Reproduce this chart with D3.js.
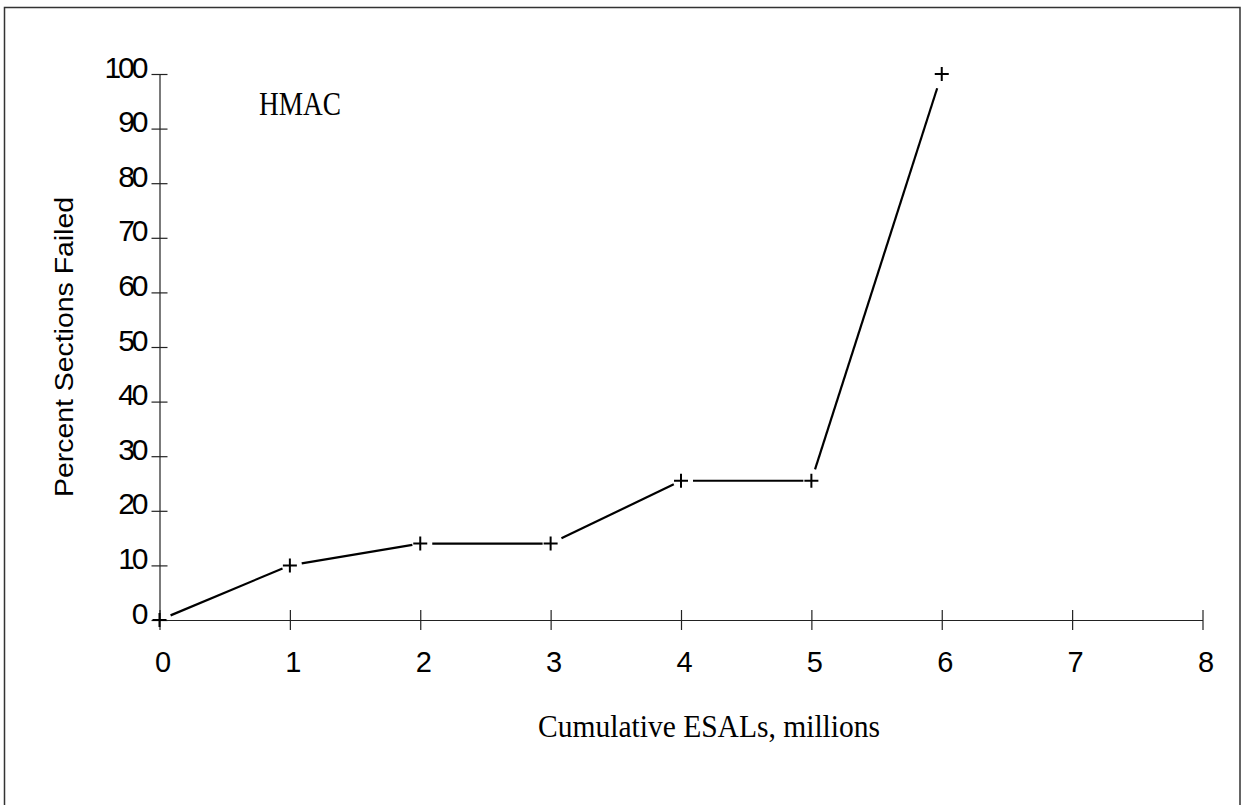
<!DOCTYPE html>
<html>
<head>
<meta charset="utf-8">
<script src="https://cdn.jsdelivr.net/npm/d3@7"></script>
<style>
  html, body { margin: 0; padding: 0; background: #fff; }
  svg { display: block; }
</style>
</head>
<body>
<svg id="chart" width="1241" height="805"></svg>
<script>
// ---- data ----
const esals = [0, 1, 2, 3, 4, 5, 6];
const percentFailed = [0, 10, 14, 14, 25.5, 25.5, 100];
const xTicks = [0, 1, 2, 3, 4, 5, 6, 7, 8];
const yTicks = [0, 10, 20, 30, 40, 50, 60, 70, 80, 90, 100];
const chartLabel = "HMAC";
const xTitle = "Cumulative ESALs, millions";
const yTitle = "Percent Sections Failed";

// ---- layout ----
const svg = d3.select("#chart");
const x = d3.scaleLinear().domain([0, 8]).range([159.5, 1202.5]);
const y = d3.scaleLinear().domain([0, 100]).range([620, 74]);

// border
svg.append("path")
  .attr("d", "M4.5,810 V7.5 H1240 V810")
  .attr("fill", "none").attr("stroke", "#333").attr("stroke-width", 1.5);

const sans = "'Liberation Sans', Arial, sans-serif";
const serif = "'Liberation Serif', 'Times New Roman', serif";

// y axis
const yAxis = svg.append("g")
  .attr("transform", `translate(${x(0)},0)`)
  .call(d3.axisLeft(y).tickValues(yTicks).tickSizeInner(8).tickSizeOuter(0).tickPadding(14));
yAxis.select(".domain").attr("stroke", "#222").attr("stroke-width", 1.2);
yAxis.selectAll(".tick line").attr("x1", -8).attr("x2", 8).attr("stroke", "#222").attr("stroke-width", 1.2);
yAxis.selectAll(".tick text")
  .attr("x", -14)
  .attr("dy", "0.1em")
  .style("font-family", sans).style("font-size", "30px").style("letter-spacing", "-3px")
  .attr("fill", "#000");

// x axis
const xAxis = svg.append("g")
  .attr("transform", `translate(0,${y(0)})`)
  .call(d3.axisBottom(x).tickValues(xTicks).tickSizeInner(10).tickSizeOuter(0).tickPadding(0));
xAxis.select(".domain").attr("stroke", "#222").attr("stroke-width", 1.2);
xAxis.selectAll(".tick line").attr("y1", -10).attr("y2", 10).attr("stroke", "#222").attr("stroke-width", 1.2);
xAxis.selectAll(".tick text")
  .attr("y", 52).attr("dy", 0)
  .attr("dx", 3)
  .style("font-family", sans).style("font-size", "29px")
  .attr("fill", "#000");

// line segments with gaps near markers
const pts = esals.map((v, i) => [x(v), y(percentFailed[i])]);
const segs = [];
for (let i = 0; i < pts.length - 1; i++) {
  const [x0, y0] = pts[i], [x1, y1] = pts[i + 1];
  const dx = x1 - x0, dy = y1 - y0, len = Math.hypot(dx, dy);
  const ux = dx / len, uy = dy / len;
  const endGap = i === pts.length - 2 ? 15 : 8;
  segs.push([[x0 + ux * 12, y0 + uy * 12], [x1 - ux * endGap, y1 - uy * endGap]]);
}
svg.append("g").selectAll("line").data(segs).join("line")
  .attr("x1", d => d[0][0]).attr("y1", d => d[0][1])
  .attr("x2", d => d[1][0]).attr("y2", d => d[1][1])
  .attr("stroke", "#000").attr("stroke-width", 2.2);

// plus markers
svg.append("g").selectAll("path").data(pts).join("path")
  .attr("d", d => `M${d[0] - 7},${d[1]} H${d[0] + 7} M${d[0]},${d[1] - 7} V${d[1] + 7}`)
  .attr("stroke", "#000").attr("stroke-width", 2).attr("fill", "none");

// chart label
svg.append("text")
  .attr("x", 259).attr("y", 115)
  .attr("textLength", 82).attr("lengthAdjust", "spacingAndGlyphs")
  .style("font-family", serif).style("font-size", "34px")
  .text(chartLabel);

// x title
svg.append("text")
  .attr("x", 538).attr("y", 737)
  .attr("textLength", 342).attr("lengthAdjust", "spacingAndGlyphs")
  .style("font-family", serif).style("font-size", "32px")
  .text(xTitle);

// y title
svg.append("text")
  .attr("transform", "translate(73,347) rotate(-90)")
  .attr("text-anchor", "middle")
  .attr("textLength", 300).attr("lengthAdjust", "spacingAndGlyphs")
  .style("font-family", sans).style("font-size", "26px")
  .text(yTitle);
</script>
</body>
</html>
